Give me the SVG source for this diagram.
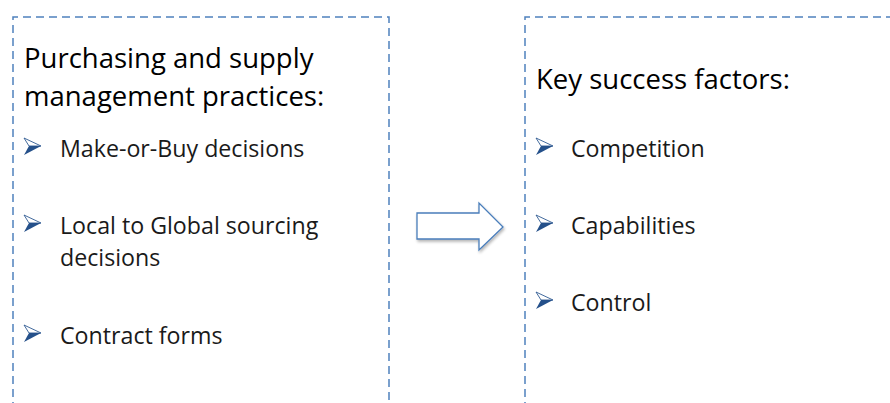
<svg xmlns="http://www.w3.org/2000/svg" width="890" height="403" viewBox="0 0 890 403">
<defs>
<style>
.box{fill:none;stroke:#4f81bd;stroke-width:1.5;stroke-dasharray:8 5}
.t{font-family:"Open Sans","Liberation Sans",sans-serif;fill:#000}
.h{font-size:27.5px}
.b{font-size:23.2px;fill:#1a1a1a}
</style>
<g id="bul">
<path d="M0,-8 L17,0 L5,0 Z" fill="#fff" stroke="#2f5a92" stroke-width="0.9"/>
<path d="M5,0 L17,0 L0,9 Z" fill="#24508a"/>
</g>
<filter id="sh" x="-10%" y="-10%" width="130%" height="140%">
<feGaussianBlur in="SourceAlpha" stdDeviation="1.5"/>
<feOffset dx="1" dy="2" result="o"/>
<feComponentTransfer><feFuncA type="linear" slope="0.3"/></feComponentTransfer>
<feMerge><feMergeNode/><feMergeNode in="SourceGraphic"/></feMerge>
</filter>
</defs>
<rect width="890" height="403" fill="#fff"/>
<g id="left">
<path class="box" d="M13,410 L13,17 L389,17 L389,410"/>
<text class="t h" x="24" y="68">Purchasing and supply</text>
<text class="t h" x="24" y="106">management practices:</text>
<use href="#bul" x="24" y="146"/>
<text class="t b" x="60" y="157">Make-or-Buy decisions</text>
<use href="#bul" x="24" y="223"/>
<text class="t b" x="60" y="234">Local to Global sourcing</text>
<text class="t b" x="60" y="266">decisions</text>
<use href="#bul" x="24" y="333"/>
<text class="t b" x="60" y="344">Contract forms</text>
</g>
<g id="right">
<path class="box" d="M525,410 L525,17 L900,17"/>
<text class="t h" x="536" y="89">Key success factors:</text>
<use href="#bul" x="536" y="146"/>
<text class="t b" x="571" y="157">Competition</text>
<use href="#bul" x="536" y="223"/>
<text class="t b" x="571" y="234">Capabilities</text>
<use href="#bul" x="536" y="300"/>
<text class="t b" x="571" y="311">Control</text>
</g>
<g id="connectors">
<path d="M417,213 L479,213 L479,203 L503,227 L479,250 L479,239 L417,239 Z" fill="#fff" stroke="#4a7ebb" stroke-width="1.3" filter="url(#sh)"/>
</g>
</svg>
